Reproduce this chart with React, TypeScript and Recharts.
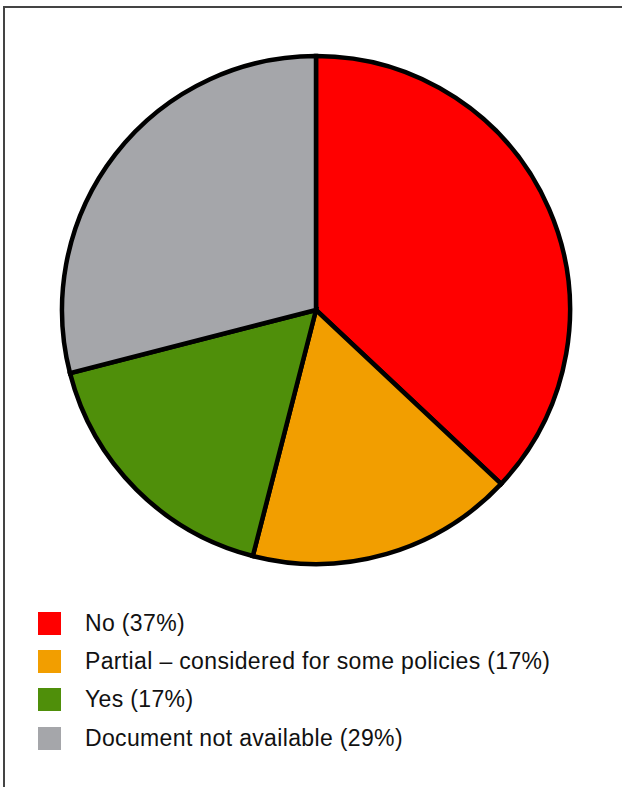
import { PieChart, Pie, Cell } from 'recharts';

const categories = ['No', 'Partial – considered for some policies', 'Yes', 'Document not available'];
const shares = [37, 17, 17, 29];
const colors = ['#ff0000', '#f29e00', '#4f8f0a', '#a5a6aa'];

const data = categories.map((name, i) => ({ name, value: shares[i] }));

function LegendBox() {
  return (
    <div
      style={{
        position: 'absolute',
        left: 38,
        top: 604,
        fontFamily: '"Liberation Sans", Arial, sans-serif',
        fontSize: 23,
        letterSpacing: 0.35,
        color: '#111',
      }}
    >
      {data.map((d, i) => (
        <div key={d.name} style={{ display: 'flex', alignItems: 'center', height: 38.3 }}>
          <div style={{ width: 23, height: 23, background: colors[i], marginRight: 24 }} />
          <span>{`${d.name} (${d.value}%)`}</span>
        </div>
      ))}
    </div>
  );
}

export default function App() {
  return (
    <div style={{ position: 'absolute', left: 0, top: 0, width: 622, height: 787, background: '#fff' }}>
      <div
        style={{
          position: 'absolute',
          left: 3,
          top: 6,
          right: 0,
          bottom: 0,
          borderTop: '2px solid #444',
          borderLeft: '2px solid #444',
        }}
      />
      <div style={{ position: 'absolute', left: 0, top: 0 }}>
        <PieChart width={622} height={620}>
          <Pie
            data={data}
            dataKey="value"
            nameKey="name"
            cx={311}
            cy={305}
            outerRadius={254}
            startAngle={90}
            endAngle={-270}
            stroke="#000"
            strokeWidth={4.5}
            isAnimationActive={false}
          >
            {data.map((d, i) => (
              <Cell key={d.name} fill={colors[i]} />
            ))}
          </Pie>
        </PieChart>
      </div>
      <LegendBox />
    </div>
  );
}
